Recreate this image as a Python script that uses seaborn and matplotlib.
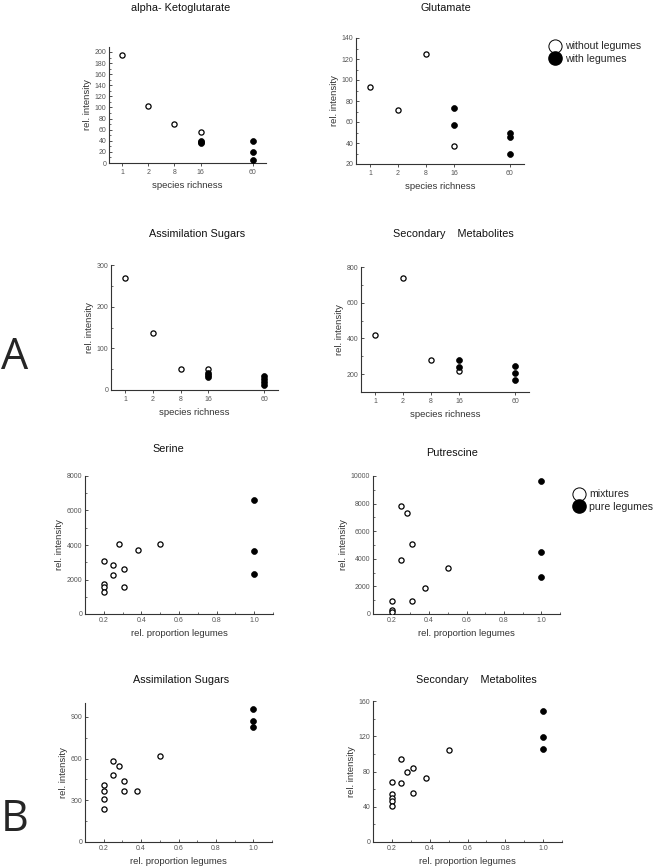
import numpy as np
import pandas as pd
import seaborn as sns
import matplotlib.pyplot as plt
from matplotlib.lines import Line2D
from matplotlib.ticker import MultipleLocator, AutoMinorLocator

# ---- A: species richness panels ----
richness_levels = [1, 2, 8, 16, 60]
richness_pos = [1, 2, 3, 4, 6]

kg_open_x = [1, 2, 8, 16]
kg_open_y = [194, 103, 70, 56]
kg_fill_x = [16, 16, 16, 60, 60, 60]
kg_fill_y = [40, 38, 36, 39, 20, 6]

glu_open_x = [1, 2, 8, 16]
glu_open_y = [93, 71, 125, 37]
glu_fill_x = [16, 16, 60, 60, 60]
glu_fill_y = [73, 57, 50, 46, 30]

sugA_open_x = [1, 2, 8, 16]
sugA_open_y = [270, 137, 50, 50]
sugA_fill_x = [16, 16, 16, 60, 60, 60, 60]
sugA_fill_y = [40, 35, 31, 33, 26, 19, 13]

secA_open_x = [1, 2, 8, 16]
secA_open_y = [418, 740, 280, 218]
secA_fill_x = [16, 16, 60, 60, 60]
secA_fill_y = [280, 240, 243, 205, 168]

# ---- B: proportion of legumes panels ----
prop_open = [0.2, 0.2, 0.2, 0.2, 0.25, 0.25, 0.28, 0.31, 0.31, 0.38, 0.5]
prop_fill = [1.0, 1.0, 1.0]

ser_open = [3050, 1750, 1550, 1300, 2850, 2250, 4050, 2620, 1580, 3700, 4050]
ser_fill = [6600, 3650, 2300]

put_open_x = [0.2, 0.2, 0.2, 0.25, 0.25, 0.28, 0.31, 0.31, 0.38, 0.5]
put_open = [920, 300, 150, 7850, 3900, 7350, 5100, 920, 1870, 3350]
put_fill = [9650, 4520, 2650]

sugB_open = [410, 370, 310, 235, 580, 480, 545, 440, 365, 370, 620]
sugB_fill = [955, 870, 825]

secB_open_x = [0.2, 0.2, 0.2, 0.2, 0.2, 0.25, 0.25, 0.28, 0.31, 0.31, 0.38, 0.5]
secB_open = [68, 54, 50, 47, 41, 94, 67, 80, 84, 56, 73, 104]
secB_fill = [149, 119, 106]

sns.set_theme(style="white")
plt.rcParams["font.family"] = ["Liberation Sans", "DejaVu Sans"]

W, H = 660, 868
fig = plt.figure(figsize=(W / 100, H / 100), dpi=100)


def px_axes(x0, y0, x1, y1):
    return fig.add_axes([x0 / W, 1 - y1 / H, (x1 - x0) / W, (y1 - y0) / H])


def draw(ax, ox, oy, fx, fy, mapper=None):
    if mapper is not None:
        ox = [mapper[v] for v in ox]
        fx = [mapper[v] for v in fx]
    df = pd.DataFrame({
        "x": list(ox) + list(fx),
        "y": list(oy) + list(fy),
        "grp": ["open"] * len(ox) + ["fill"] * len(fx),
    })
    sns.scatterplot(data=df[df.grp == "open"], x="x", y="y", ax=ax,
                    color="white", edgecolor="black", linewidth=0.9, s=14,
                    legend=False, zorder=3)
    sns.scatterplot(data=df[df.grp == "fill"], x="x", y="y", ax=ax,
                    color="black", edgecolor="black", linewidth=0.5, s=18,
                    legend=False, zorder=3)


def style(ax, xlabel, ylabel):
    for s in ["top", "right"]:
        ax.spines[s].set_visible(False)
    for s in ["left", "bottom"]:
        ax.spines[s].set_color("#333333")
        ax.spines[s].set_linewidth(0.8)
    ax.tick_params(which="both", direction="in", colors="#333333",
                   labelcolor="#555555", labelsize=5, pad=2,
                   left=True, bottom=True)
    ax.tick_params(which="major", length=2.5, width=0.6)
    ax.tick_params(which="minor", length=1.5, width=0.5)
    ax.set_xlabel(xlabel, fontsize=6.8, color="#333333", labelpad=3.5)
    ax.set_ylabel(ylabel, fontsize=6.8, color="#333333", labelpad=2)


rmap = dict(zip(richness_levels, richness_pos))


def richness_axes(ax, ylo, yhi, step):
    ax.set_xlim(0.5, 6.5)
    ax.set_xticks(richness_pos)
    ax.set_xticklabels([str(v) for v in richness_levels])
    ax.set_ylim(ylo, yhi)
    ax.yaxis.set_major_locator(MultipleLocator(step))
    ax.yaxis.set_minor_locator(AutoMinorLocator(2))
    style(ax, "species richness", "rel. intensity")
    ax.tick_params(axis="x", which="both", direction="out")


def prop_axes(ax, yhi, step):
    ax.set_xlim(0.1, 1.1)
    ax.xaxis.set_minor_locator(MultipleLocator(0.1))
    ax.set_xticks([0.2, 0.4, 0.6, 0.8, 1.0])
    ax.set_xticklabels(["0.2", "0.4", "0.6", "0.8", "1.0"])
    ax.set_ylim(0, yhi)
    ax.yaxis.set_major_locator(MultipleLocator(step))
    ax.yaxis.set_minor_locator(AutoMinorLocator(2))
    style(ax, "rel. proportion legumes", "rel. intensity")


# panel A1
ax = px_axes(109, 47, 266, 163)
draw(ax, kg_open_x, kg_open_y, kg_fill_x, kg_fill_y, rmap)
richness_axes(ax, 0, 209, 20)

# panel A2
ax = px_axes(356, 38, 524, 164)
draw(ax, glu_open_x, glu_open_y, glu_fill_x, glu_fill_y, rmap)
richness_axes(ax, 20, 140, 20)

# panel A3
ax = px_axes(111, 265, 278, 390)
draw(ax, sugA_open_x, sugA_open_y, sugA_fill_x, sugA_fill_y, rmap)
richness_axes(ax, 0, 300, 100)

# panel A4
ax = px_axes(361, 267, 529, 392)
draw(ax, secA_open_x, secA_open_y, secA_fill_x, secA_fill_y, rmap)
richness_axes(ax, 100, 800, 200)
ax.set_yticks([200, 400, 600, 800])

# panel B1
ax = px_axes(85, 476, 273, 614)
draw(ax, prop_open, ser_open, prop_fill, ser_fill)
prop_axes(ax, 8000, 2000)

# panel B2
ax = px_axes(373, 476, 560, 614)
draw(ax, put_open_x, put_open, prop_fill, put_fill)
prop_axes(ax, 10000, 2000)

# panel B3
ax = px_axes(85, 703, 272, 842)
draw(ax, prop_open, sugB_open, prop_fill, sugB_fill)
prop_axes(ax, 1000, 300)

# panel B4
ax = px_axes(373, 701, 562, 842)
draw(ax, secB_open_x, secB_open, prop_fill, secB_fill)
prop_axes(ax, 160, 40)

titles = [
    ("alpha- Ketoglutarate", 181, 8),
    ("Glutamate", 446, 8),
    ("Assimilation Sugars", 197, 234),
    ("Secondary    Metabolites", 453, 234),
    ("Serine", 168, 449),
    ("Putrescine", 452, 453),
    ("Assimilation Sugars", 181, 680),
    ("Secondary    Metabolites", 476, 680),
]
for t, x, y in titles:
    fig.text(x / W, 1 - y / H, t, ha="center", va="center", fontsize=7.8,
             color="#111111")

fig.text(15 / W, 1 - 358 / H, "A", ha="center", va="center", fontsize=31,
         family=["Open Sans", "DejaVu Sans"])
fig.text(15 / W, 1 - 820 / H, "B", ha="center", va="center", fontsize=31,
         family=["Open Sans", "DejaVu Sans"])


# legends
def add_legend(labels, x, y):
    handles = [
        Line2D([], [], ls="none", marker="o", markersize=9.5, mfc="white",
               mec="black", mew=0.7),
        Line2D([], [], ls="none", marker="o", markersize=9.5, mfc="black",
               mec="black"),
    ]
    fig.legend(handles, labels, loc="upper left",
               bbox_to_anchor=(x / W, 1 - y / H), frameon=False,
               fontsize=7.6, handletextpad=0.4, labelspacing=0.25,
               borderpad=0, handlelength=1.2)


add_legend(["without legumes", "with legumes"], 543, 36)
add_legend(["mixtures", "pure legumes"], 567, 484)

fig.savefig("out.png", dpi=100)
